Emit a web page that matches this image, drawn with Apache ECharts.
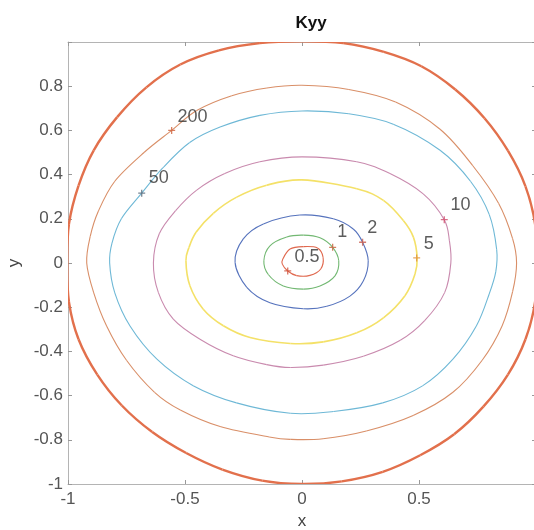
<!DOCTYPE html>
<html>
<head>
<meta charset="utf-8">
<script src="https://cdn.jsdelivr.net/npm/echarts@6/dist/echarts.min.js"></script>
<style>html,body{margin:0;padding:0;background:#fff}#c{width:534px;height:530px}</style>
</head>
<body>
<div id="c"></div>
<script>
// ---- data (x, y in data units) ----
const levels = ['0.5', '1', '2', '5', '10', '50', '200'];

const c05 = [[-0.082,0.018],[-0.051,0.063],[0.006,0.074],[0.066,0.068],[0.090,0.026],[0.080,-0.027],[0.034,-0.056],[-0.023,-0.057],[-0.061,-0.036],[-0.084,-0.005]];
const c1 = [[0.006,0.126],[0.077,0.114],[0.131,0.071],[0.157,0.010],[0.141,-0.058],[0.077,-0.104],[0.006,-0.118],[-0.080,-0.104],[-0.144,-0.052],[-0.163,0.010],[-0.137,0.078],[-0.065,0.118]];
const c2 = [[-0.009,0.217],[0.134,0.200],[0.219,0.154],[0.259,0.094],[0.283,0.010],[0.262,-0.082],[0.205,-0.150],[0.106,-0.196],[0.006,-0.207],[-0.137,-0.180],[-0.236,-0.110],[-0.286,0.003],[-0.251,0.109],[-0.165,0.177]];
const c5 = [[0.000,0.376],[0.234,0.336],[0.348,0.283],[0.433,0.192],[0.476,0.117],[0.492,0.023],[0.483,-0.050],[0.440,-0.148],[0.348,-0.248],[0.234,-0.316],[0.091,-0.357],[-0.050,-0.364],[-0.222,-0.337],[-0.336,-0.284],[-0.422,-0.209],[-0.479,-0.103],[-0.496,0.010],[-0.483,0.070],[-0.452,0.140],[-0.379,0.225],[-0.279,0.298],[-0.151,0.352]];
const c10 = [[0.000,0.480],[0.234,0.458],[0.376,0.405],[0.518,0.313],[0.608,0.196],[0.630,0.100],[0.636,0.000],[0.610,-0.133],[0.525,-0.260],[0.420,-0.350],[0.262,-0.422],[0.091,-0.462],[-0.050,-0.473],[-0.151,-0.460],[-0.294,-0.420],[-0.436,-0.345],[-0.550,-0.254],[-0.614,-0.133],[-0.635,0.000],[-0.610,0.132],[-0.540,0.237],[-0.450,0.330],[-0.330,0.405],[-0.180,0.458]];
const c50 = [[0.000,0.688],[0.200,0.675],[0.390,0.628],[0.590,0.510],[0.720,0.370],[0.800,0.220],[0.832,0.060],[0.828,-0.040],[0.800,-0.140],[0.745,-0.285],[0.645,-0.435],[0.515,-0.556],[0.345,-0.633],[0.135,-0.672],[-0.050,-0.680],[-0.280,-0.633],[-0.465,-0.555],[-0.620,-0.435],[-0.735,-0.285],[-0.800,-0.135],[-0.822,0.000],[-0.812,0.090],[-0.772,0.200],[-0.685,0.316],[-0.595,0.430],[-0.480,0.545],[-0.350,0.615],[-0.180,0.668]];
const c200 = [[0.000,0.804],[0.200,0.785],[0.400,0.728],[0.590,0.605],[0.730,0.440],[0.840,0.270],[0.900,0.110],[0.917,0.000],[0.900,-0.130],[0.855,-0.285],[0.770,-0.440],[0.645,-0.585],[0.475,-0.690],[0.275,-0.760],[0.090,-0.795],[-0.050,-0.798],[-0.140,-0.787],[-0.350,-0.740],[-0.520,-0.665],[-0.630,-0.585],[-0.750,-0.440],[-0.835,-0.285],[-0.890,-0.135],[-0.920,0.000],[-0.905,0.120],[-0.870,0.235],[-0.800,0.370],[-0.675,0.500],[-0.557,0.600],[-0.450,0.690],[-0.300,0.757],[-0.150,0.792]];
const outer = [[1.003,0.000],[0.996,0.176],[0.955,0.347],[0.880,0.508],[0.780,0.655],[0.655,0.785],[0.510,0.890],[0.350,0.955],[0.176,0.995],[0.000,1.003],[-0.180,0.995],[-0.355,0.962],[-0.520,0.898],[-0.665,0.795],[-0.790,0.660],[-0.890,0.510],[-0.955,0.350],[-0.996,0.176],[-1.003,0.000],[-0.996,-0.176],[-0.955,-0.345],[-0.875,-0.505],[-0.770,-0.645],[-0.640,-0.765],[-0.495,-0.860],[-0.340,-0.935],[-0.170,-0.985],[0.000,-1.000],[0.170,-0.988],[0.345,-0.945],[0.505,-0.870],[0.650,-0.775],[0.775,-0.650],[0.880,-0.505],[0.955,-0.345],[0.996,-0.176]];

// clabel '+' markers and label text anchors
const markerPts = [[-0.061,-0.036],[0.131,0.071],[0.259,0.094],[0.490,0.023],[0.608,0.196],[-0.685,0.316],[-0.557,0.600]];
const labelPts = [[0.021,0.027],[0.172,0.139],[0.300,0.160],[0.542,0.086],[0.677,0.263],[-0.612,0.383],[-0.468,0.662]];

// ---- styles ----
const curves = [c05, c1, c2, c5, c10, c50, c200, outer];
const curveColors = ['#e0684e','#72b872','#5673bd','#f4e168','#c98aae','#6eb8d6','#d98f68','#e2704c'];
const curveWidths = [1.1, 1.1, 1.1, 1.6, 1.1, 1.1, 1.1, 2.4];
const markColors = ['#d0503a','#c8603a','#c85a4a','#e0903a','#d04a6a','#586878','#d0603a'];
const FONT = 'Liberation Sans, Arial, sans-serif';

// closed Catmull-Rom spline through the data points, mapped with the chart's own axes
function renderCurve(params, api) {
  const idx = params.dataIndex;
  const pts = curves[idx].map(p => api.coord(p));
  const n = pts.length;
  const children = [];
  for (let i = 0; i < n; i++) {
    const p0 = pts[(i - 1 + n) % n], p1 = pts[i], p2 = pts[(i + 1) % n], p3 = pts[(i + 2) % n];
    children.push({
      type: 'bezierCurve',
      shape: {
        x1: p1[0], y1: p1[1], x2: p2[0], y2: p2[1],
        cpx1: p1[0] + (p2[0] - p0[0]) / 6, cpy1: p1[1] + (p2[1] - p0[1]) / 6,
        cpx2: p2[0] - (p3[0] - p1[0]) / 6, cpy2: p2[1] - (p3[1] - p1[1]) / 6
      },
      style: { stroke: curveColors[idx], lineWidth: curveWidths[idx], fill: null }
    });
  }
  return { type: 'group', children: children };
}

const series = [{
  type: 'custom', coordinateSystem: 'cartesian2d', silent: true, clip: true, z: 3,
  renderItem: renderCurve,
  data: curves.map((c, i) => [c[0][0], c[0][1], i])
}, {
  type: 'scatter', silent: true, z: 6,
  symbol: 'path://M5,0L5,10M0,5L10,5', symbolSize: 7,
  data: markerPts.map((p, i) => ({ value: p, itemStyle: { color: 'none', borderColor: markColors[i], borderWidth: 1.3 } }))
}, {
  type: 'scatter', silent: true, z: 7, symbolSize: 1,
  itemStyle: { color: 'rgba(0,0,0,0)' },
  label: { show: true, position: 'inside', color: '#333', fontSize: 18, fontFamily: FONT, formatter: p => p.value[2] },
  data: labelPts.map((p, i) => [p[0], p[1], levels[i]])
}];

const fmt = v => { const r = Math.round(v * 10) / 10; return r === 1 ? '' : String(r); };
const axisCommon = {
  type: 'value', min: -1, max: 1,
  splitLine: { show: false },
  axisLine: { show: true, onZero: false, lineStyle: { color: '#b4b4b4', width: 1 } },
  axisTick: { show: true, inside: true, length: 4, lineStyle: { color: '#999' } }
};

const chart = echarts.init(document.getElementById('c'), null, { renderer: 'canvas' });
chart.setOption({
  animation: false,
  backgroundColor: '#fff',
  title: {
    text: 'Kyy', left: 306, top: 10, textAlign: 'center',
    textStyle: { fontSize: 17, fontWeight: 'bold', color: '#111', fontFamily: FONT }
  },
  grid: { left: 68, top: 42, width: 468, height: 442, show: false, containLabel: false, outerBoundsMode: 'none' },
  xAxis: [
    Object.assign({}, axisCommon, {
      position: 'bottom', interval: 0.5,
      name: 'x', nameLocation: 'middle', nameGap: 29,
      nameTextStyle: { fontSize: 17, color: '#444', fontFamily: FONT },
      axisLabel: { formatter: fmt, fontSize: 17, color: '#555', margin: 7, fontFamily: FONT }
    }),
    Object.assign({}, axisCommon, { position: 'top', interval: 0.5, axisLabel: { show: false } })
  ],
  yAxis: [
    Object.assign({}, axisCommon, {
      position: 'left', interval: 0.2,
      name: 'y', nameLocation: 'middle', nameGap: 45, nameRotate: 90,
      nameTextStyle: { fontSize: 17, color: '#444', fontFamily: FONT },
      axisLabel: { formatter: fmt, fontSize: 17, color: '#555', margin: 5, fontFamily: FONT }
    }),
    Object.assign({}, axisCommon, { position: 'right', interval: 0.2, axisLabel: { show: false } })
  ],
  series: series
});
</script>
</body>
</html>
